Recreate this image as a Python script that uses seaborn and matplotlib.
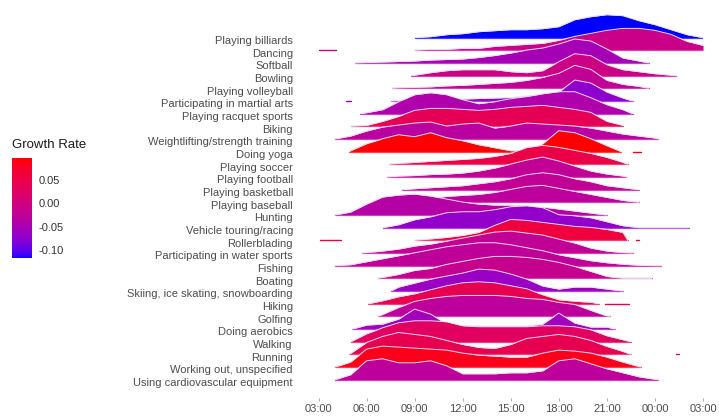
import numpy as np
import matplotlib
matplotlib.use("Agg")
import matplotlib.pyplot as plt
import seaborn as sns
from matplotlib.colors import ListedColormap, Normalize
from matplotlib.cm import ScalarMappable

# hour grid: 03:00 (3) through 03:00 next day (27)
hours = list(range(3, 28))
hour_labels = ["03:00", "06:00", "09:00", "12:00", "15:00", "18:00", "21:00", "00:00", "03:00"]

activities = ["Playing billiards", "Dancing", "Softball", "Bowling", "Playing volleyball",
              "Participating in martial arts", "Playing racquet sports", "Biking",
              "Weightlifting/strength training", "Doing yoga", "Playing soccer", "Playing football",
              "Playing basketball", "Playing baseball", "Hunting", "Vehicle touring/racing",
              "Rollerblading", "Participating in water sports", "Fishing", "Boating",
              "Skiing, ice skating, snowboarding", "Hiking", "Golfing", "Doing aerobics",
              "Walking", "Running", "Working out, unspecified", "Using cardiovascular equipment"]

growth_rate = [-0.117, -0.010, -0.053, -0.006, -0.021, -0.074, -0.042, 0.037,
               -0.031, 0.097, 0.050, -0.021, -0.021, -0.027, -0.036, -0.070,
               0.058, -0.021, -0.025, -0.016, -0.064, 0.043, -0.027, -0.057,
               0.029, 0.043, 0.086, -0.027]

# time range each activity's density covers (hours)
line_start = [9.0, 9.0, 5.3, 8.8, 7.6, 7.5, 5.6, 5.0, 4.0, 4.9, 7.4, 7.3, 8.2, 8.0,
              4.0, 7.0, 9.0, 5.7, 4.0, 6.7, 7.5, 6.1, 6.7, 5.1, 5.0, 4.9, 4.0, 4.0]
line_end = [27.0, 27.0, 23.6, 25.3, 23.6, 22.6, 22.6, 22.0, 24.2, 21.9, 22.3, 22.2, 23.0, 23.0,
            21.0, 26.1, 22.3, 22.6, 24.4, 23.8, 22.0, 20.5, 21.2, 21.5, 22.5, 22.5, 23.1, 24.2]

# density heights at each hour of the grid (relative units)
billiards = [0, 0, 0, 0, 0, 0, 0, 1, 3, 4, 6, 7, 8, 8, 9, 11, 18, 21, 23, 22, 17, 13, 8, 3, 0]
dancing = [0, 0, 0, 0, 0, 0, 0, 1, 1, 2, 2, 4, 5, 6, 7, 10, 14, 17, 20, 22, 22, 20, 16, 9, 5]
softball = [0, 0, 0, 0.5, 1, 1.5, 2, 3, 3.5, 4, 5.5, 7.5, 10, 13, 15, 19, 24, 22, 14, 5, 2, 0, 0, 0, 0]
bowling = [0, 0, 0, 0, 0, 0, 0.5, 3, 5, 6, 6, 6, 4, 3, 5, 14, 22, 20, 11, 6, 4, 2, 0.5, 0, 0]
volleyball = [0, 0, 0, 0, 0, 0.5, 1, 1.5, 2.5, 3, 4, 5, 6, 8, 11, 15, 23, 19, 8, 4, 2, 0, 0, 0, 0]
martial_arts = [0, 0, 0, 0, 0, 0.5, 1, 1.5, 2, 2, 2.5, 3, 3.5, 5, 6, 9, 21, 18, 9, 3, 0, 0, 0, 0, 0]
racquet = [0, 0, 0, 1, 4, 12, 19, 21, 19, 14, 10, 12, 15, 17, 20, 22, 22, 16, 9, 4, 0, 0, 0, 0, 0]
biking = [0, 0, 0, 1, 5, 10, 16, 18, 18, 17, 16, 17, 19, 20, 21, 19, 17, 14, 5, 1, 0, 0, 0, 0, 0]
weightlifting = [0, 0, 3, 8, 12, 14, 16, 17, 13, 15, 16, 11, 13, 16, 15, 14, 13, 11, 8, 5, 3, 1, 0, 0, 0]
yoga = [0, 0, 1, 8, 13, 17, 15, 19, 14, 11, 7, 4, 1, 1, 8, 21, 19, 13, 6, 0, 0, 0, 0, 0, 0]
soccer = [0, 0, 0, 0, 0, 1, 2, 3, 4, 5, 6, 8, 11, 17, 19, 17, 14, 11, 7, 2, 0, 0, 0, 0, 0]
football = [0, 0, 0, 0, 0, 1, 1.5, 2.5, 3, 4, 6, 9, 13, 17, 20, 16, 11, 6, 3, 1, 0, 0, 0, 0, 0]
basketball = [0, 0, 0, 0, 0, 0, 1, 2, 3, 4, 6, 8, 11, 15, 17, 15, 11, 8, 4, 2, 0, 0, 0, 0, 0]
baseball = [0, 0, 0, 0, 0, 0, 2, 4, 6, 7, 8, 10, 13, 16, 17, 14, 11, 8, 5, 2, 0, 0, 0, 0, 0]
hunting = [0, 0, 3, 11, 18, 20, 21, 19, 16, 13, 11, 10, 10, 9, 8, 6, 4, 2, 0, 0, 0, 0, 0, 0, 0]
vehicle = [0, 0, 0, 0, 0, 3, 8, 11, 15, 16, 16, 18, 21, 22, 20, 13, 12, 10, 6, 2, 0, 0, 0, 0, 0]
rollerblading = [0, 0, 0, 0, 0, 0, 0, 1.5, 3, 5, 8, 15, 21, 20, 18, 16, 14, 13, 11, 8, 0, 0, 0, 0, 0]
water_sports = [0, 0, 0, 0.5, 2, 4, 7, 9, 12, 15, 18, 21, 22, 20, 18, 14, 10, 5, 2, 0.5, 0, 0, 0, 0, 0]
fishing = [0, 0, 1, 4, 7, 10, 13, 16, 19, 21, 23, 23, 21, 18, 15, 11, 8, 5, 3, 1.5, 0.5, 0, 0, 0, 0]
boating = [0, 0, 0, 0, 1, 4, 8, 10, 14, 17, 20, 22, 22, 21, 19, 16, 12, 7, 2, 0, 0, 0, 0, 0, 0]
skiing = [0, 0, 0, 0, 0, 4, 8, 12, 15, 18, 22, 21, 17, 12, 5, 2, 4, 4, 2, 0, 0, 0, 0, 0, 0]
hiking = [0, 0, 0, 0, 3, 7, 10, 14, 18, 21, 22, 21, 18, 15, 9, 4, 2.5, 1.5, 0, 0, 0, 0, 0, 0, 0]
golfing = [0, 0, 0, 0, 2, 9, 15, 18, 20, 21, 21, 21, 20, 18, 17, 14, 12, 6, 0.5, 0, 0, 0, 0, 0, 0]
aerobics = [0, 0, 0.5, 4, 5, 10, 20, 15, 5, 3, 3, 3, 3, 3, 5, 16, 6, 2, 2, 0, 0, 0, 0, 0, 0]
walking = [0, 0, 0, 8, 14, 19, 21, 21, 20, 16, 15, 15, 15, 15, 16, 16, 15, 12, 6, 2, 0, 0, 0, 0, 0]
running = [0, 0, 1, 12, 18, 22, 20, 18, 14, 10, 7, 6, 10, 16, 18, 20, 18, 14, 8, 3, 0, 0, 0, 0, 0]
working_out = [0, 0, 5, 18, 21, 20, 19, 18, 17, 14, 12, 11, 10, 10, 14, 17, 16, 14, 10, 5, 0.5, 0, 0, 0, 0]
cardio = [0, 0, 5, 19, 21, 17, 17, 19, 14, 6, 6, 6, 7, 7, 9, 19, 21, 16, 11, 7, 3, 0.5, 0, 0, 0]

ridge_heights = [billiards, dancing, softball, bowling, volleyball, martial_arts, racquet, biking,
                 weightlifting, yoga, soccer, football, basketball, baseball, hunting, vehicle,
                 rollerblading, water_sports, fishing, boating, skiing, hiking, golfing, aerobics,
                 walking, running, working_out, cardio]

# isolated stretches of data away from the main density
tail_bits = [("Dancing", 3.0, 4.1), ("Participating in martial arts", 4.7, 5.0),
             ("Doing yoga", 22.6, 23.1), ("Rollerblading", 3.1, 4.4), ("Rollerblading", 22.8, 23.0),
             ("Hiking", 20.9, 22.4), ("Running", 25.3, 25.5)]

ridge_scale = 12.67  # height units per row


# ggplot-like blue -> red gradient interpolated in CIELAB
M = np.array([[0.4124, 0.3576, 0.1805], [0.2126, 0.7152, 0.0722], [0.0193, 0.1192, 0.9505]])
WP = np.array([0.95047, 1.0, 1.08883])


def to_lab(rgb):
    rgb = np.asarray(rgb, float)
    lin = np.where(rgb <= 0.04045, rgb / 12.92, ((rgb + 0.055) / 1.055) ** 2.4)
    t = (M @ lin) / WP
    f = np.where(t > (6 / 29) ** 3, np.cbrt(t), t / (3 * (6 / 29) ** 2) + 4 / 29)
    return np.array([116 * f[1] - 16, 500 * (f[0] - f[1]), 200 * (f[1] - f[2])])


def from_lab(lab):
    L, a, b = lab
    fy = (L + 16) / 116
    f = np.array([fy + a / 500, fy, fy - b / 200])
    t = np.where(f > 6 / 29, f ** 3, 3 * (6 / 29) ** 2 * (f - 4 / 29))
    lin = np.clip(np.linalg.inv(M) @ (t * WP), 0, 1)
    rgb = np.where(lin <= 0.0031308, 12.92 * lin, 1.055 * lin ** (1 / 2.4) - 0.055)
    return np.clip(rgb, 0, 1)


lab_lo, lab_hi = to_lab([0, 0, 1]), to_lab([1, 0, 0])
cmap = ListedColormap([from_lab(lab_lo + (lab_hi - lab_lo) * t) for t in np.linspace(0, 1, 256)])
norm = Normalize(vmin=min(growth_rate), vmax=max(growth_rate))

sns.set_theme(style="white")
plt.rcParams['font.family'] = ['Liberation Sans', 'DejaVu Sans']
plt.rcParams['axes.unicode_minus'] = False

fig = plt.figure(figsize=(7.19, 4.19), dpi=100)
ax = fig.add_axes([318.5 / 719, 1 - 398 / 419, (703 - 318.5) / 719, (398 - 5) / 419])

n = len(activities)
for i, name in enumerate(activities):
    base = n - 1 - i
    hts = ridge_heights[i]
    s, e = line_start[i], line_end[i]
    xs = [s] + [h for h in hours if s < h < e] + [e]
    ys = [hts[hours.index(int(s))] if s == int(s) else 0]
    ys += [hts[hours.index(h)] for h in hours if s < h < e]
    ys += [hts[hours.index(int(e))] if e == int(e) else 0]
    top = base + np.array(ys, float) / ridge_scale
    col = cmap(norm(growth_rate[i]))
    z = 10 + 3 * i
    ax.fill_between(xs, base, top, color=col, lw=0, zorder=z)
    edge = tuple(0.75 * np.array(col[:3]) + 0.25)
    ax.plot([s, e], [base, base], color=edge, lw=0.9, zorder=z + 1)
    sns.lineplot(x=xs, y=top, sort=False, estimator=None, color="#ecdcee", linewidth=0.7,
                 ax=ax, zorder=z + 2, legend=False)
    for nm, a, b in tail_bits:
        if nm == name:
            ax.plot([a, b], [base, base], color=col, lw=1.0, zorder=z + 1)

ax.set_xlim(3, 27)
ax.set_ylim(-1.437, 29.58)
ax.set_xticks(list(range(3, 28, 3)))
ax.set_xticklabels(hour_labels)
ax.set_yticks([n - 1 - i - 0.18 for i in range(n)])
ax.set_yticklabels(activities)
ax.tick_params(axis="y", length=0, pad=18.4, labelsize=8, labelcolor="#4d4d4d")
ax.tick_params(axis="x", length=2.5, width=0.6, color="#a0a0a0", pad=1.5, labelsize=8,
               labelcolor="#4d4d4d", bottom=True)
for sp in ax.spines.values():
    sp.set_visible(False)
ax.grid(False)
ax.set_xlabel("")
ax.set_ylabel("")

# colour bar legend
fig.text(12 / 719, 1 - 145 / 419, "Growth Rate", fontsize=9.5, color="#1a1a1a", va="center", ha="left")
cax = fig.add_axes([12.3 / 719, 1 - 258 / 419, 20 / 719, 100 / 419])
cbar = fig.colorbar(ScalarMappable(norm=norm, cmap=cmap), cax=cax)
cbar.outline.set_visible(False)
cbar.set_ticks([-0.10, -0.05, 0.00, 0.05])
cbar.set_ticklabels(["-0.10", "-0.05", "0.00", "0.05"])
cax.tick_params(direction="in", length=4, width=0.8, color="white", left=True, right=True,
                labelsize=8, labelcolor="#333333", pad=4.3)

fig.savefig("out.png", dpi=100)
